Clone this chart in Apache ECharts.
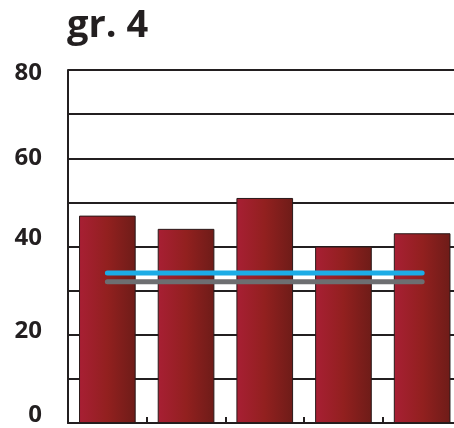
<!DOCTYPE html>
<html><head><meta charset="utf-8">
<script src="https://cdn.jsdelivr.net/npm/echarts@6/dist/echarts.min.js"></script>
<style>html,body{margin:0;padding:0;background:#fff}#c{width:454px;height:428px}</style>
</head><body><div id="c"></div>
<script>
const categories = ['1', '2', '3', '4', '5'];
const barValues = [47, 44, 51, 40, 43];
const blueLine = [34, 34, 34, 34, 34];
const greyLine = [32, 32, 32, 32, 32];
const yTickLabels = [0, 20, 40, 60, 80];

const chart = echarts.init(document.getElementById('c'), null, {renderer: 'canvas'});
const dark = '#231f20';
const lblFont = {fontFamily: 'Open Sans', fontWeight: 'bold', fontSize: 24, color: dark};
chart.setOption({
  animation: false,
  title: {
    text: 'gr. 4', left: 62, top: 2,
    textStyle: {fontFamily: 'Open Sans', fontWeight: 'bold', fontSize: 38, color: dark}
  },
  grid: {left: 68, top: 70, width: 393.5, height: 353, containLabel: false, outerBoundsMode: 'none'},
  xAxis: {
    type: 'category', data: categories,
    axisLine: {show: true, lineStyle: {color: dark, width: 2}},
    axisTick: {show: true, inside: true, length: 6, lineStyle: {color: dark, width: 2}},
    axisLabel: {show: false},
    splitLine: {show: false}
  },
  yAxis: {
    type: 'value', min: 0, max: 80, interval: 10,
    axisLine: {show: true, lineStyle: {color: dark, width: 2}},
    axisTick: {show: false},
    axisLabel: {
      margin: 26, ...lblFont,
      formatter: v => {
        if (!yTickLabels.includes(v)) return '';
        const key = {0: 'up', 20: 'up2', 40: 'up', 60: 'mid', 80: 'down'}[v];
        return '{' + key + '|' + v + '}';
      },
      rich: {
        up: {...lblFont, padding: [0, 0, 16, 0]},
        up2: {...lblFont, padding: [0, 0, 8, 0]},
        mid: {...lblFont},
        down: {...lblFont, padding: [7, 0, 0, 0]}
      }
    },
    splitLine: {show: true, lineStyle: {color: dark, width: 2}}
  },
  series: [
    {
      type: 'bar', data: barValues, barWidth: '72%',
      itemStyle: {
        borderColor: '#2a1a1a', borderWidth: 1,
        color: new echarts.graphic.LinearGradient(0, 0, 1, 0, [
          {offset: 0, color: '#a81f34'},
          {offset: 0.5, color: '#92201f'},
          {offset: 1, color: '#6e1c18'}
        ])
      }
    },
    {
      type: 'line', data: greyLine, showSymbol: false, z: 3,
      lineStyle: {color: '#6d6e71', width: 5, cap: 'round'}
    },
    {
      type: 'line', data: blueLine, showSymbol: false, z: 4,
      lineStyle: {color: '#1cace6', width: 5, cap: 'round'}
    }
  ]
});
</script></body></html>
